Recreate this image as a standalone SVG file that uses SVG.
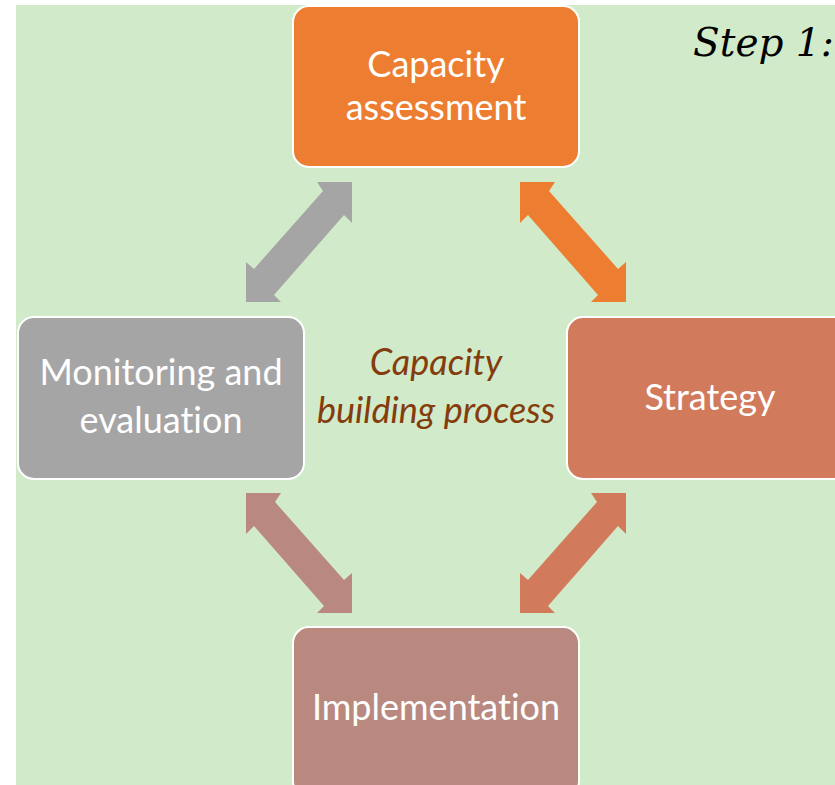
<svg xmlns="http://www.w3.org/2000/svg" width="835" height="785" viewBox="0 0 835 785">
<style>
.box{stroke:#ffffff;stroke-width:2}
.lbl{font-family:Lato,"Open Sans","Liberation Sans",sans-serif;font-size:36px;fill:#ffffff;text-anchor:middle;font-variant-ligatures:none;font-feature-settings:"liga" 0}
.mid{font-family:Lato,"Open Sans","Liberation Sans",sans-serif;font-size:36px;font-style:italic;fill:#843c0c;text-anchor:middle;font-variant-ligatures:none;font-feature-settings:"liga" 0}
</style>
<rect x="0" y="0" width="835" height="785" fill="#ffffff"/>
<rect x="16" y="5" width="819" height="780" fill="#d1eac9"/>
<g id="connectors">
<polygon fill="#ed7d31" points="520,182 555,182 549,191 618,269 626,262 626,302 591,302 598,295 528,215 520,223"/>
<polygon fill="#a5a5a5" points="352,182 317,182 323,191 254,269 246,262 246,302 281,302 274,295 344,215 352,223"/>
<polygon fill="#b9897f" points="246,493 281,493 275,502 344,580 352,573 352,613 317,613 324,606 254,526 246,534"/>
<polygon fill="#d17b5c" points="626,493 591,493 597,502 528,580 520,573 520,613 555,613 548,606 618,526 626,534"/>
</g>
<g id="node-assessment">
<rect class="box" x="293" y="6" width="286" height="161" rx="16" fill="#ed7d31"/>
<text class="lbl" x="436" y="77">Capacity</text>
<text class="lbl" x="436" y="120">assessment</text>
</g>
<g id="node-monitoring">
<rect class="box" x="18" y="317" width="286" height="162" rx="16" fill="#a5a5a5"/>
<text class="lbl" x="161" y="385">Monitoring and</text>
<text class="lbl" x="161" y="433">evaluation</text>
</g>
<g id="node-strategy">
<rect class="box" x="567" y="317" width="286" height="162" rx="16" fill="#d17b5c"/>
<text class="lbl" x="710" y="410">Strategy</text>
</g>
<g id="node-implementation">
<rect class="box" x="293" y="627" width="286" height="170" rx="16" fill="#b9897f"/>
<text class="lbl" x="436" y="720">Implementation</text>
</g>
<g id="center-label">
<text class="mid" x="436" y="375">Capacity</text>
<text class="mid" x="436" y="423">building process</text>
</g>
<text x="693" y="56" font-family="'DejaVu Serif',serif" font-style="italic" font-size="39" fill="#000000">Step 1:</text>
</svg>
